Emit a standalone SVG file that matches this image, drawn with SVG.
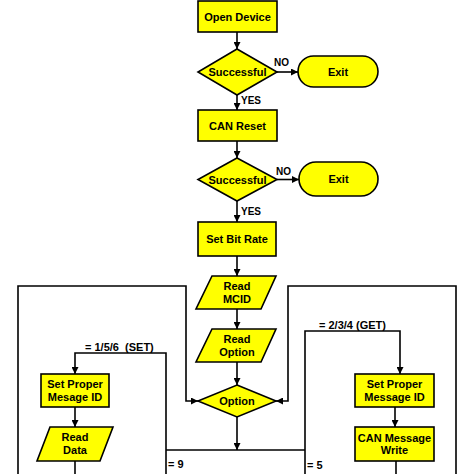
<svg xmlns="http://www.w3.org/2000/svg" width="474" height="474" viewBox="0 0 474 474">
<defs>
<marker id="ah" viewBox="0 0 10 10" refX="10" refY="5" markerWidth="7" markerHeight="7" markerUnits="userSpaceOnUse" orient="auto">
<path d="M0,0 L10,5 L0,10 Z" fill="#000"/>
</marker>
<style>
.n{fill:#FFFF00;stroke:#000;stroke-width:1.6}
.t{font-family:"Liberation Sans",Arial,sans-serif;font-weight:bold;font-size:11px;text-anchor:middle;dominant-baseline:central;fill:#000}
.l{font-family:"Liberation Sans",Arial,sans-serif;font-weight:bold;font-size:10px;fill:#000}
.m{font-size:11px}
.c{fill:none;stroke:#000;stroke-width:1.6}
.a{marker-end:url(#ah)}
</style>
</defs>
<rect width="474" height="474" fill="#fff"/>
<g id="connectors">
<path class="c a" d="M237,32 V49"/>
<path class="c a" d="M277,72 H298"/>
<path class="c a" d="M237,95 V110"/>
<path class="c a" d="M237,141 V158"/>
<path class="c a" d="M277,179.5 H299"/>
<path class="c a" d="M237,201 V222"/>
<path class="c a" d="M237,256 V276"/>
<path class="c a" d="M237,309 V329"/>
<path class="c a" d="M237,362 V385"/>
<path class="c a" d="M237,417 V450"/>
<path class="c" d="M166,450 H305"/>
<path class="c a" d="M166,474 V353 H75 V374"/>
<path class="c a" d="M305,474 V331 H400 V374"/>
<path class="c a" d="M75,407 V427"/>
<path class="c" d="M75,461 V474"/>
<path class="c a" d="M18,474 V286 H186 V401 H198"/>
<path class="c a" d="M456,474 V286 H288 V401 H276"/>
<path class="c a" d="M395,407 V427"/>
<path class="c" d="M396,461 V474"/>
<text class="l" x="274" y="66">NO</text>
<text class="l" x="241" y="104">YES</text>
<text class="l" x="276" y="175">NO</text>
<text class="l" x="241" y="215">YES</text>
<text class="l m" x="85" y="351" xml:space="preserve">= 1/5/6  (SET)</text>
<text class="l m" x="319" y="329">= 2/3/4 (GET)</text>
<text class="l m" x="168" y="468">= 9</text>
<text class="l m" x="307" y="469">= 5</text>
</g>
<g id="open-device">
<rect class="n" x="198" y="1" width="79" height="31"/>
<text class="t" x="237.5" y="16.5">Open Device</text>
</g>
<g id="successful-1">
<polygon class="n" points="237,49 277,72 237,95 198,72"/>
<text class="t" x="237.5" y="72">Successful</text>
</g>
<g id="exit-1">
<rect class="n" x="298" y="56" width="80" height="31" rx="15.5"/>
<text class="t" x="338" y="71.5">Exit</text>
</g>
<g id="can-reset">
<rect class="n" x="198" y="110" width="79" height="31"/>
<text class="t" x="237.5" y="125.5">CAN Reset</text>
</g>
<g id="successful-2">
<polygon class="n" points="237,158 277,179.5 237,201 198,179.5"/>
<text class="t" x="237.5" y="179.5">Successful</text>
</g>
<g id="exit-2">
<rect class="n" x="299" y="162" width="79" height="34" rx="17"/>
<text class="t" x="338.5" y="179">Exit</text>
</g>
<g id="set-bit-rate">
<rect class="n" x="198" y="222" width="78" height="34"/>
<text class="t" x="237" y="239">Set Bit Rate</text>
</g>
<g id="read-mcid">
<polygon class="n" points="212,276 276,276 261,309 196,309"/>
<text class="t" x="237" y="286">Read</text>
<text class="t" x="237" y="298.5">MCID</text>
</g>
<g id="read-option">
<polygon class="n" points="212,329 276,329 261,362 196,362"/>
<text class="t" x="237" y="339">Read</text>
<text class="t" x="237" y="351.5">Option</text>
</g>
<g id="option">
<polygon class="n" points="237,385 276,401 237,417 198,401"/>
<text class="t" x="237" y="401">Option</text>
</g>
<g id="set-proper-left">
<rect class="n" x="41" y="374" width="68" height="33"/>
<text class="t" x="75" y="383.5">Set Proper</text>
<text class="t" x="75" y="396.5">Mesage ID</text>
</g>
<g id="read-data">
<polygon class="n" points="50,427 113,427 100,461 37,461"/>
<text class="t" x="75" y="437">Read</text>
<text class="t" x="75" y="450">Data</text>
</g>
<g id="set-proper-right">
<rect class="n" x="355" y="374" width="79" height="33"/>
<text class="t" x="394.5" y="383.5">Set Proper</text>
<text class="t" x="394.5" y="396.5">Message ID</text>
</g>
<g id="can-message-write">
<rect class="n" x="355" y="427" width="79" height="34"/>
<text class="t" x="394.5" y="437.5">CAN Message</text>
<text class="t" x="394.5" y="450">Write</text>
</g>
</svg>
